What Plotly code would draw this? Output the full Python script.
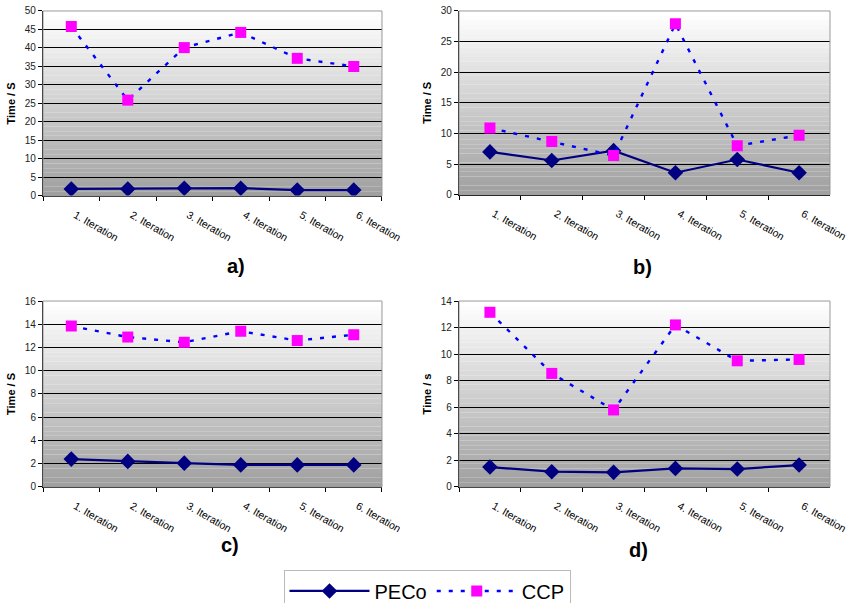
import plotly.graph_objects as go

categories = ["1. Iteration", "2. Iteration", "3. Iteration", "4. Iteration", "5. Iteration", "6. Iteration"]

peco_a = [1.9, 1.9, 2.1, 2.1, 1.6, 1.6]
ccp_a = [45.8, 25.9, 40.1, 44.2, 37.2, 35.0]

peco_b = [7.0, 5.6, 7.2, 3.6, 5.75, 3.6]
ccp_b = [10.9, 8.7, 6.4, 27.9, 8.0, 9.7]

peco_c = [2.4, 2.2, 2.05, 1.9, 1.9, 1.9]
ccp_c = [13.85, 12.9, 12.45, 13.4, 12.6, 13.1]

peco_d = [1.5, 1.15, 1.1, 1.4, 1.35, 1.65]
ccp_d = [13.15, 8.55, 5.8, 12.2, 9.5, 9.6]

panels = [
    dict(peco=peco_a, ccp=ccp_a, ymax=50, dtick=5, ytitle="Time / S", label="a)",
         xd=[0.0504, 0.4473], yd=[0.675, 0.9818], lx=0.263, ly=0.559),
    dict(peco=peco_b, ccp=ccp_b, ymax=30, dtick=5, ytitle="Time / S", label="b)",
         xd=[0.5375, 0.9719], yd=[0.677, 0.9818], lx=0.766, ly=0.557),
    dict(peco=peco_c, ccp=ccp_c, ymax=16, dtick=2, ytitle="Time / S", label="c)",
         xd=[0.0504, 0.4473], yd=[0.1924, 0.5008], lx=0.257, ly=0.075),
    dict(peco=peco_d, ccp=ccp_d, ymax=14, dtick=2, ytitle="Time / s", label="d)",
         xd=[0.5375, 0.9719], yd=[0.1924, 0.5008], lx=0.761, ly=0.067),
]

fig = go.Figure()
shapes = []
annotations = []
NSTRIPES = 40
for i, p in enumerate(panels, start=1):
    xa = "x" if i == 1 else f"x{i}"
    ya = "y" if i == 1 else f"y{i}"
    fig.add_trace(go.Scatter(
        x=categories, y=p["peco"], name="PECo", mode="lines+markers",
        line=dict(color="#000080", width=2.2),
        marker=dict(symbol="diamond", size=12, color="#000080"),
        xaxis=xa, yaxis=ya, showlegend=(i == 1)))
    fig.add_trace(go.Scatter(
        x=categories, y=p["ccp"], name="CCP", mode="lines+markers",
        line=dict(color="#0000ff", width=2.4, dash="4px,8px"),
        marker=dict(symbol="square", size=11, color="#ff00ff"),
        xaxis=xa, yaxis=ya, showlegend=(i == 1)))

    axkey = "xaxis" if i == 1 else f"xaxis{i}"
    aykey = "yaxis" if i == 1 else f"yaxis{i}"
    fig.update_layout(**{
        axkey: dict(domain=p["xd"], anchor=ya, type="category", tickson="boundaries",
                    ticks="outside", ticklen=4, tickcolor="black", showline=True,
                    linecolor="black", linewidth=1.2, showgrid=False, tickangle=30,
                    automargin=False, ticklabelstandoff=8, ticklabelshift=4,
                    tickfont=dict(family="Liberation Sans, Arial", size=10.5, color="black"),
                    range=[-0.5, 5.5], fixedrange=True),
        aykey: dict(domain=p["yd"], anchor=xa, range=[0, p["ymax"]], dtick=p["dtick"],
                    ticks="outside", ticklen=4, tickcolor="black", showline=True,
                    linecolor="black", linewidth=1.2, showgrid=True, gridcolor="black",
                    gridwidth=1, zeroline=False, automargin=False,
                    tickfont=dict(family="Liberation Sans, Arial", size=10, color="#222"),
                    title=dict(text=f"<b>{p['ytitle']}</b>", standoff=6,
                               font=dict(family="Liberation Sans, Arial", size=11, color="black"))),
    })
    # gradient background stripes
    for s in range(NSTRIPES):
        t = s / (NSTRIPES - 1)
        v = int(round(255 - t * 95))
        shapes.append(dict(type="rect", xref=f"{xa} domain", yref=f"{ya} domain",
                           x0=0, x1=1, y0=1 - (s + 1) / NSTRIPES, y1=1 - s / NSTRIPES,
                           fillcolor=f"rgb({v},{v},{v})", line=dict(width=0), layer="below"))
    shapes.append(dict(type="rect", xref=f"{xa} domain", yref=f"{ya} domain",
                       x0=0, x1=1, y0=0, y1=1, fillcolor="rgba(0,0,0,0)",
                       line=dict(color="#999999", width=1), layer="above"))
    annotations.append(dict(text=f"<b>{p['label']}</b>", xref="paper", yref="paper",
                            x=p["lx"], y=p["ly"], showarrow=False,
                            font=dict(family="Liberation Sans, Arial", size=20, color="black")))

fig.update_layout(
    width=854, height=603,
    margin=dict(l=0, r=0, t=0, b=0, autoexpand=False),
    paper_bgcolor="white", plot_bgcolor="white",
    shapes=shapes, annotations=annotations,
    legend=dict(orientation="h", x=0.5, xanchor="center", y=0.054, yanchor="top",
                bordercolor="#bbbbbb", borderwidth=1, itemwidth=80,
                font=dict(family="Liberation Sans, Arial", size=20, color="black"),
                bgcolor="white"),
)

fig.write_html("out.html", config={"displayModeBar": False},
               post_script="document.body.style.margin='0';document.body.style.overflow='hidden';")
